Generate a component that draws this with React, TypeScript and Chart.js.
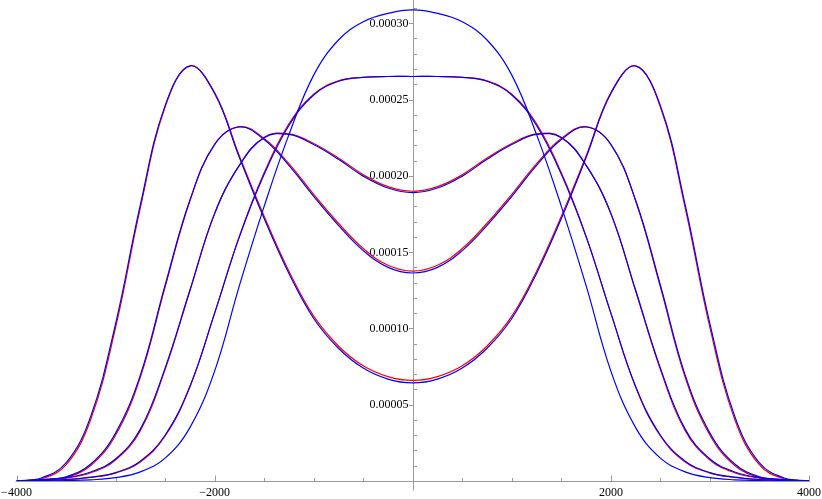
import { useEffect, useRef } from 'react';
import { Chart, registerables } from 'chart.js';

Chart.register(...registerables);

const xValues = [-4000, -3750, -3500, -3250, -3000, -2750, -2500, -2250, -2000, -1750, -1500, -1250, -1000, -750, -500, -250, 0, 250, 500, 750, 1000, 1250, 1500, 1750, 2000, 2250, 2500, 2750, 3000, 3250, 3500, 3750, 4000];

// unimodal curve (blue only)
const curveA = [0, 0, 0.03e-5, 0.08e-5, 0.22e-5, 0.6e-5, 1.5e-5, 3.5e-5, 7.2e-5, 12.8e-5, 18.0e-5, 22.7e-5, 26.6e-5, 28.9e-5, 30.1e-5, 30.65e-5, 30.87e-5, 30.65e-5, 30.1e-5, 28.9e-5, 26.6e-5, 22.7e-5, 18.0e-5, 12.8e-5, 7.2e-5, 3.5e-5, 1.5e-5, 0.6e-5, 0.22e-5, 0.08e-5, 0.03e-5, 0, 0];

// flat-top pair
const curveBBlue = [0, 0.03e-5, 0.1e-5, 0.25e-5, 0.55e-5, 1.3e-5, 3.0e-5, 6.2e-5, 11.0e-5, 16.0e-5, 20.1e-5, 23.3e-5, 25.3e-5, 26.2e-5, 26.45e-5, 26.51e-5, 26.51e-5, 26.51e-5, 26.45e-5, 26.2e-5, 25.3e-5, 23.3e-5, 20.1e-5, 16.0e-5, 11.0e-5, 6.2e-5, 3.0e-5, 1.3e-5, 0.55e-5, 0.25e-5, 0.1e-5, 0.03e-5, 0];
const curveBRed = [0, 0.03e-5, 0.09e-5, 0.23e-5, 0.52e-5, 1.25e-5, 2.95e-5, 6.15e-5, 11.0e-5, 16.05e-5, 20.2e-5, 23.4e-5, 25.35e-5, 26.22e-5, 26.46e-5, 26.51e-5, 26.51e-5, 26.51e-5, 26.46e-5, 26.22e-5, 25.35e-5, 23.4e-5, 20.2e-5, 16.05e-5, 11.0e-5, 6.15e-5, 2.95e-5, 1.25e-5, 0.52e-5, 0.23e-5, 0.09e-5, 0.03e-5, 0];

// shallow bimodal pair (centre 0.00019)
const curveCBlue = [0, 0.08e-5, 0.22e-5, 0.59e-5, 1.44e-5, 3.4e-5, 7.4e-5, 12.5e-5, 17.54e-5, 20.68e-5, 22.5e-5, 22.71e-5, 22.05e-5, 21.08e-5, 19.98e-5, 19.2e-5, 18.9e-5, 19.2e-5, 19.98e-5, 21.08e-5, 22.05e-5, 22.71e-5, 22.5e-5, 20.68e-5, 17.54e-5, 12.5e-5, 7.4e-5, 3.4e-5, 1.44e-5, 0.59e-5, 0.22e-5, 0.08e-5, 0];
const curveCRed = [0, 0.06e-5, 0.19e-5, 0.54e-5, 1.38e-5, 3.3e-5, 7.3e-5, 12.45e-5, 17.52e-5, 20.7e-5, 22.53e-5, 22.75e-5, 22.12e-5, 21.16e-5, 20.07e-5, 19.29e-5, 18.99e-5, 19.29e-5, 20.07e-5, 21.16e-5, 22.12e-5, 22.75e-5, 22.53e-5, 20.7e-5, 17.52e-5, 12.45e-5, 7.3e-5, 3.3e-5, 1.38e-5, 0.54e-5, 0.19e-5, 0.06e-5, 0];

// medium bimodal pair (centre 0.000137)
const curveDBlue = [0, 0.1e-5, 0.28e-5, 1.11e-5, 3.14e-5, 6.94e-5, 12.83e-5, 18.4e-5, 22.06e-5, 23.2e-5, 22.38e-5, 20.68e-5, 18.65e-5, 16.75e-5, 15.1e-5, 14.0e-5, 13.63e-5, 14.0e-5, 15.1e-5, 16.75e-5, 18.65e-5, 20.68e-5, 22.38e-5, 23.2e-5, 22.06e-5, 18.4e-5, 12.83e-5, 6.94e-5, 3.14e-5, 1.11e-5, 0.28e-5, 0.1e-5, 0];
const curveDRed = [0, 0.08e-5, 0.24e-5, 1.02e-5, 3.0e-5, 6.8e-5, 12.7e-5, 18.35e-5, 22.05e-5, 23.22e-5, 22.45e-5, 20.8e-5, 18.78e-5, 16.89e-5, 15.24e-5, 14.14e-5, 13.76e-5, 14.14e-5, 15.24e-5, 16.89e-5, 18.78e-5, 20.8e-5, 22.45e-5, 23.22e-5, 22.05e-5, 18.35e-5, 12.7e-5, 6.8e-5, 3.0e-5, 1.02e-5, 0.24e-5, 0.08e-5, 0];

// strongly bimodal pair (centre 0.000065)
const curveEBlue = [0, 0.2e-5, 1.18e-5, 4.25e-5, 10.3e-5, 18.1e-5, 24.6e-5, 27.2e-5, 25.4e-5, 21.2e-5, 17.2e-5, 13.6e-5, 10.65e-5, 8.7e-5, 7.4e-5, 6.68e-5, 6.43e-5, 6.68e-5, 7.4e-5, 8.7e-5, 10.65e-5, 13.6e-5, 17.2e-5, 21.2e-5, 25.4e-5, 27.2e-5, 24.6e-5, 18.1e-5, 10.3e-5, 4.25e-5, 1.18e-5, 0.2e-5, 0];
const curveERed = [0, 0.15e-5, 1.05e-5, 4.05e-5, 10.05e-5, 17.9e-5, 24.5e-5, 27.2e-5, 25.45e-5, 21.3e-5, 17.35e-5, 13.75e-5, 10.8e-5, 8.85e-5, 7.55e-5, 6.84e-5, 6.59e-5, 6.84e-5, 7.55e-5, 8.85e-5, 10.8e-5, 13.75e-5, 17.35e-5, 21.3e-5, 25.45e-5, 27.2e-5, 24.5e-5, 17.9e-5, 10.05e-5, 4.05e-5, 1.05e-5, 0.15e-5, 0];

const xMajorTicks = [-4000, -2000, 2000, 4000];
const xMajorLabels = ['\u22124000', '\u22122000', '2000', '4000'];
const xMinorTicks = [-3500, -3000, -2500, -1500, -1000, -500, 500, 1000, 1500, 2500, 3000, 3500];
const yMajorTicks = [0.00005, 0.0001, 0.00015, 0.0002, 0.00025, 0.0003];
const yMajorLabels = ['0.00005', '0.00010', '0.00015', '0.00020', '0.00025', '0.00030'];
const yMinorTicks = [0.00001, 0.00002, 0.00003, 0.00004, 0.00006, 0.00007, 0.00008, 0.00009, 0.00011, 0.00012, 0.00013, 0.00014, 0.00016, 0.00017, 0.00018, 0.00019, 0.00021, 0.00022, 0.00023, 0.00024, 0.00026, 0.00027, 0.00028, 0.00029, 0.00031];

const BLUE = '#0000ff';
const RED = '#ff0000';
const AXIS = '#9a9a9a';

const toPoints = (arr: number[]) => arr.map((v, i) => ({ x: xValues[i], y: v }));

const axesPlugin = {
  id: 'centredAxes',
  beforeDatasetsDraw(chart: any) {
    const { ctx } = chart;
    const xs = chart.scales.x;
    const ys = chart.scales.y;
    const x0 = Math.round(xs.getPixelForValue(0)) + 0.5;
    const y0 = Math.round(ys.getPixelForValue(0)) + 0.5;
    ctx.save();
    ctx.strokeStyle = AXIS;
    ctx.lineWidth = 1;
    ctx.beginPath();
    ctx.moveTo(xs.left - 1, y0);
    ctx.lineTo(xs.right + 1, y0);
    ctx.moveTo(x0, 0);
    ctx.lineTo(x0, y0 + 9);
    xMajorTicks.forEach((v) => {
      const px = Math.round(xs.getPixelForValue(v)) + 0.5;
      ctx.moveTo(px, y0);
      ctx.lineTo(px, y0 - 6);
    });
    xMinorTicks.forEach((v) => {
      const px = Math.round(xs.getPixelForValue(v)) + 0.5;
      ctx.moveTo(px, y0);
      ctx.lineTo(px, y0 - 3.5);
    });
    yMajorTicks.forEach((v) => {
      const py = Math.round(ys.getPixelForValue(v)) + 0.5;
      ctx.moveTo(x0, py);
      ctx.lineTo(x0 - 4.5, py);
    });
    yMinorTicks.forEach((v) => {
      const py = Math.round(ys.getPixelForValue(v)) + 0.5;
      ctx.moveTo(x0, py);
      ctx.lineTo(x0 + 3.5, py);
    });
    ctx.stroke();

    ctx.fillStyle = '#000000';
    ctx.font = '12px "Liberation Serif", "Times New Roman", serif';
    ctx.textAlign = 'center';
    ctx.textBaseline = 'alphabetic';
    xMajorTicks.forEach((v, i) => {
      ctx.fillText(xMajorLabels[i], xs.getPixelForValue(v), y0 + 14);
    });
    ctx.textAlign = 'right';
    ctx.textBaseline = 'middle';
    yMajorTicks.forEach((v, i) => {
      ctx.fillText(yMajorLabels[i], x0 - 5, ys.getPixelForValue(v) + 0.5);
    });
    ctx.restore();
  },
};

export default function App() {
  const ref = useRef<HTMLCanvasElement>(null);
  useEffect(() => {
    document.body.style.margin = '0';
    const canvas = ref.current;
    if (!canvas) return;
    const line = (label: string, data: number[], color: string, order: number) => ({
      label,
      data: toPoints(data),
      borderColor: color,
      backgroundColor: color,
      borderWidth: 1.2,
      pointRadius: 0,
      fill: false,
      tension: 0.4,
      order,
    });
    const chart = new Chart(canvas, {
      type: 'line',
      data: {
        datasets: [
          line('A', curveA, BLUE, 1),
          line('B blue', curveBBlue, BLUE, 1),
          line('C blue', curveCBlue, BLUE, 1),
          line('D blue', curveDBlue, BLUE, 1),
          line('E blue', curveEBlue, BLUE, 1),
          line('B red', curveBRed, RED, 2),
          line('C red', curveCRed, RED, 2),
          line('D red', curveDRed, RED, 2),
          line('E red', curveERed, RED, 2),
        ],
      },
      options: {
        responsive: false,
        animation: false,
        layout: { padding: { left: 16.5, right: 13, top: 4, bottom: 18 } },
        plugins: { legend: { display: false }, tooltip: { enabled: false } },
        scales: {
          x: { type: 'linear', min: -4000, max: 4000, display: false },
          y: { type: 'linear', min: 0, max: 0.0003126, display: false },
        },
      },
      plugins: [axesPlugin],
    });
    return () => chart.destroy();
  }, []);
  return (
    <div style={{ width: 822, height: 499 }}>
      <canvas ref={ref} width={822} height={499} style={{ display: 'block' }} />
    </div>
  );
}
